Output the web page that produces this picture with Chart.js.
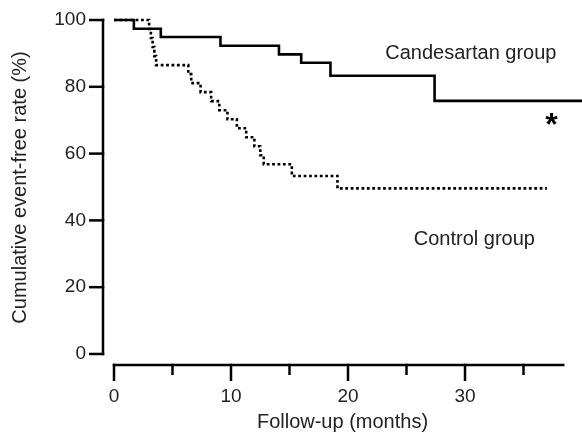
<!DOCTYPE html>
<html>
<head>
<meta charset="utf-8">
<script src="https://cdn.jsdelivr.net/npm/chart.js@4.4.1/dist/chart.umd.min.js"></script>
<style>
  html, body { margin: 0; padding: 0; background: #fff; }
  #wrap { width: 582px; height: 435px; }
</style>
</head>
<body>
<div id="wrap"><canvas id="c" width="582" height="435"></canvas></div>
<script>
// ---- data ----
const candTimes = [0, 1.7, 4.0, 9.1, 14.1, 16.0, 18.5, 27.4, 40];
const candSurv  = [100, 97.4, 94.9, 92.3, 89.7, 87.2, 83.3, 75.8, 75.8];

const ctrlTimes = [0, 3.0, 3.15, 3.3, 3.45, 3.6, 6.35, 6.6, 7.4, 8.3, 9.0, 9.7, 10.5, 11.3, 12.0, 12.5, 12.8, 15.2, 19.1, 37.0];
const ctrlSurv  = [100, 97.3, 94.6, 91.9, 89.2, 86.5, 83.8, 81.1, 78.4, 75.7, 73.0, 70.3, 67.6, 64.9, 62.2, 59.5, 56.8, 53.3, 49.6, 49.6];

const yTicks = [0, 20, 40, 60, 80, 100];
const xMajorTicks = [0, 10, 20, 30];
const xMinorTicks = [5, 15, 25, 35];

const xTitle = 'Follow-up (months)';
const yTitle = 'Cumulative event-free rate (%)';
const annotations = [
  { text: 'Candesartan group', x: 30.5, y: 88.2 },
  { text: 'Control group', x: 30.8, y: 32.6 }
];
const starMark = { text: '*', x: 37.4, y: 70.4 };
const xAxisEnd = 38.5;

// ---- styles ----
const FONT = '"Liberation Sans", Arial, Helvetica, sans-serif';
const TXT = '#222';
const CLEAR = 'rgba(0,0,0,0)';

const toPts = (t, s) => t.map((v, i) => ({ x: v, y: s[i] }));

const axesPlugin = {
  id: 'prismAxes',
  afterDatasetsDraw(chart) {
    const { ctx, scales: { x, y }, chartArea } = chart;
    ctx.save();
    ctx.strokeStyle = '#000';
    ctx.lineWidth = 2.5;
    ctx.lineCap = 'butt';
    // y axis
    const yl = chartArea.left;
    ctx.beginPath();
    ctx.moveTo(yl, y.getPixelForValue(100) - 1.25);
    ctx.lineTo(yl, y.getPixelForValue(0) + 1.25);
    ctx.stroke();
    yTicks.forEach(v => {
      const py = y.getPixelForValue(v);
      ctx.beginPath();
      ctx.moveTo(yl - 14, py);
      ctx.lineTo(yl + 1.25, py);
      ctx.stroke();
    });
    // x axis
    const xb = chartArea.bottom;
    ctx.beginPath();
    ctx.moveTo(x.getPixelForValue(0) - 1.25, xb);
    ctx.lineTo(x.getPixelForValue(xAxisEnd), xb);
    ctx.stroke();
    xMajorTicks.forEach(v => {
      const px = x.getPixelForValue(v);
      ctx.beginPath(); ctx.moveTo(px, xb - 1.25); ctx.lineTo(px, xb + 16); ctx.stroke();
    });
    xMinorTicks.forEach(v => {
      const px = x.getPixelForValue(v);
      ctx.beginPath(); ctx.moveTo(px, xb - 1.25); ctx.lineTo(px, xb + 10); ctx.stroke();
    });
    // annotations
    ctx.fillStyle = TXT;
    ctx.textAlign = 'center';
    ctx.textBaseline = 'alphabetic';
    ctx.font = '20px ' + FONT;
    annotations.forEach(a => {
      ctx.fillText(a.text, x.getPixelForValue(a.x), y.getPixelForValue(a.y));
    });
    ctx.fillStyle = '#000';
    ctx.font = 'bold 32px ' + FONT;
    ctx.textBaseline = 'middle';
    ctx.fillText(starMark.text, x.getPixelForValue(starMark.x), y.getPixelForValue(starMark.y) + 7);
    ctx.restore();
  }
};

new Chart(document.getElementById('c'), {
  type: 'line',
  data: {
    datasets: [
      {
        label: 'Candesartan group',
        data: toPts(candTimes, candSurv),
        borderColor: '#000',
        borderWidth: 2.6,
        stepped: 'before',
        pointRadius: 0,
        fill: false,
        clip: false
      },
      {
        label: 'Control group',
        data: toPts(ctrlTimes, ctrlSurv),
        borderColor: '#000',
        borderWidth: 2.6,
        borderDash: [2.8, 2.6],
        borderCapStyle: 'butt',
        stepped: 'before',
        pointRadius: 0,
        fill: false,
        clip: false
      }
    ]
  },
  plugins: [axesPlugin],
  options: {
    responsive: false,
    devicePixelRatio: 1,
    animation: false,
    layout: { padding: { top: 10, right: 0, bottom: 0, left: 0 } },
    plugins: { legend: { display: false }, tooltip: { enabled: false } },
    scales: {
      x: {
        type: 'linear',
        min: -0.94,
        max: 40,
        grid: { display: true, drawOnChartArea: false, drawTicks: true, tickLength: 22, color: CLEAR },
        border: { display: false },
        afterFit(s) { s.height = 70; },
        afterBuildTicks(s) { s.ticks = [...xMajorTicks, ...xMinorTicks].sort((a, b) => a - b).map(v => ({ value: v })); },
        ticks: {
          autoSkip: false,
          maxRotation: 0,
          padding: 0,
          color: TXT,
          font: { family: FONT, size: 19, lineHeight: 1 },
          callback: v => (xMajorTicks.includes(v) ? String(v) : '')
        },
        title: {
          display: true,
          text: xTitle,
          color: TXT,
          font: { family: FONT, size: 20 },
          padding: { top: 0, bottom: 1 }
        }
      },
      y: {
        type: 'linear',
        min: -3.3,
        max: 103.0,
        grid: { display: true, drawOnChartArea: false, drawTicks: true, tickLength: 17, color: CLEAR },
        border: { display: false },
        afterFit(s) { s.width = 103; },
        afterBuildTicks(s) { s.ticks = yTicks.map(v => ({ value: v })); },
        ticks: {
          padding: 0,
          color: TXT,
          font: { family: FONT, size: 19, lineHeight: 1 }
        },
        title: {
          display: true,
          text: yTitle,
          color: TXT,
          font: { family: FONT, size: 20 },
          padding: { top: 8, bottom: 0 }
        }
      }
    }
  }
});
</script>
</body>
</html>
